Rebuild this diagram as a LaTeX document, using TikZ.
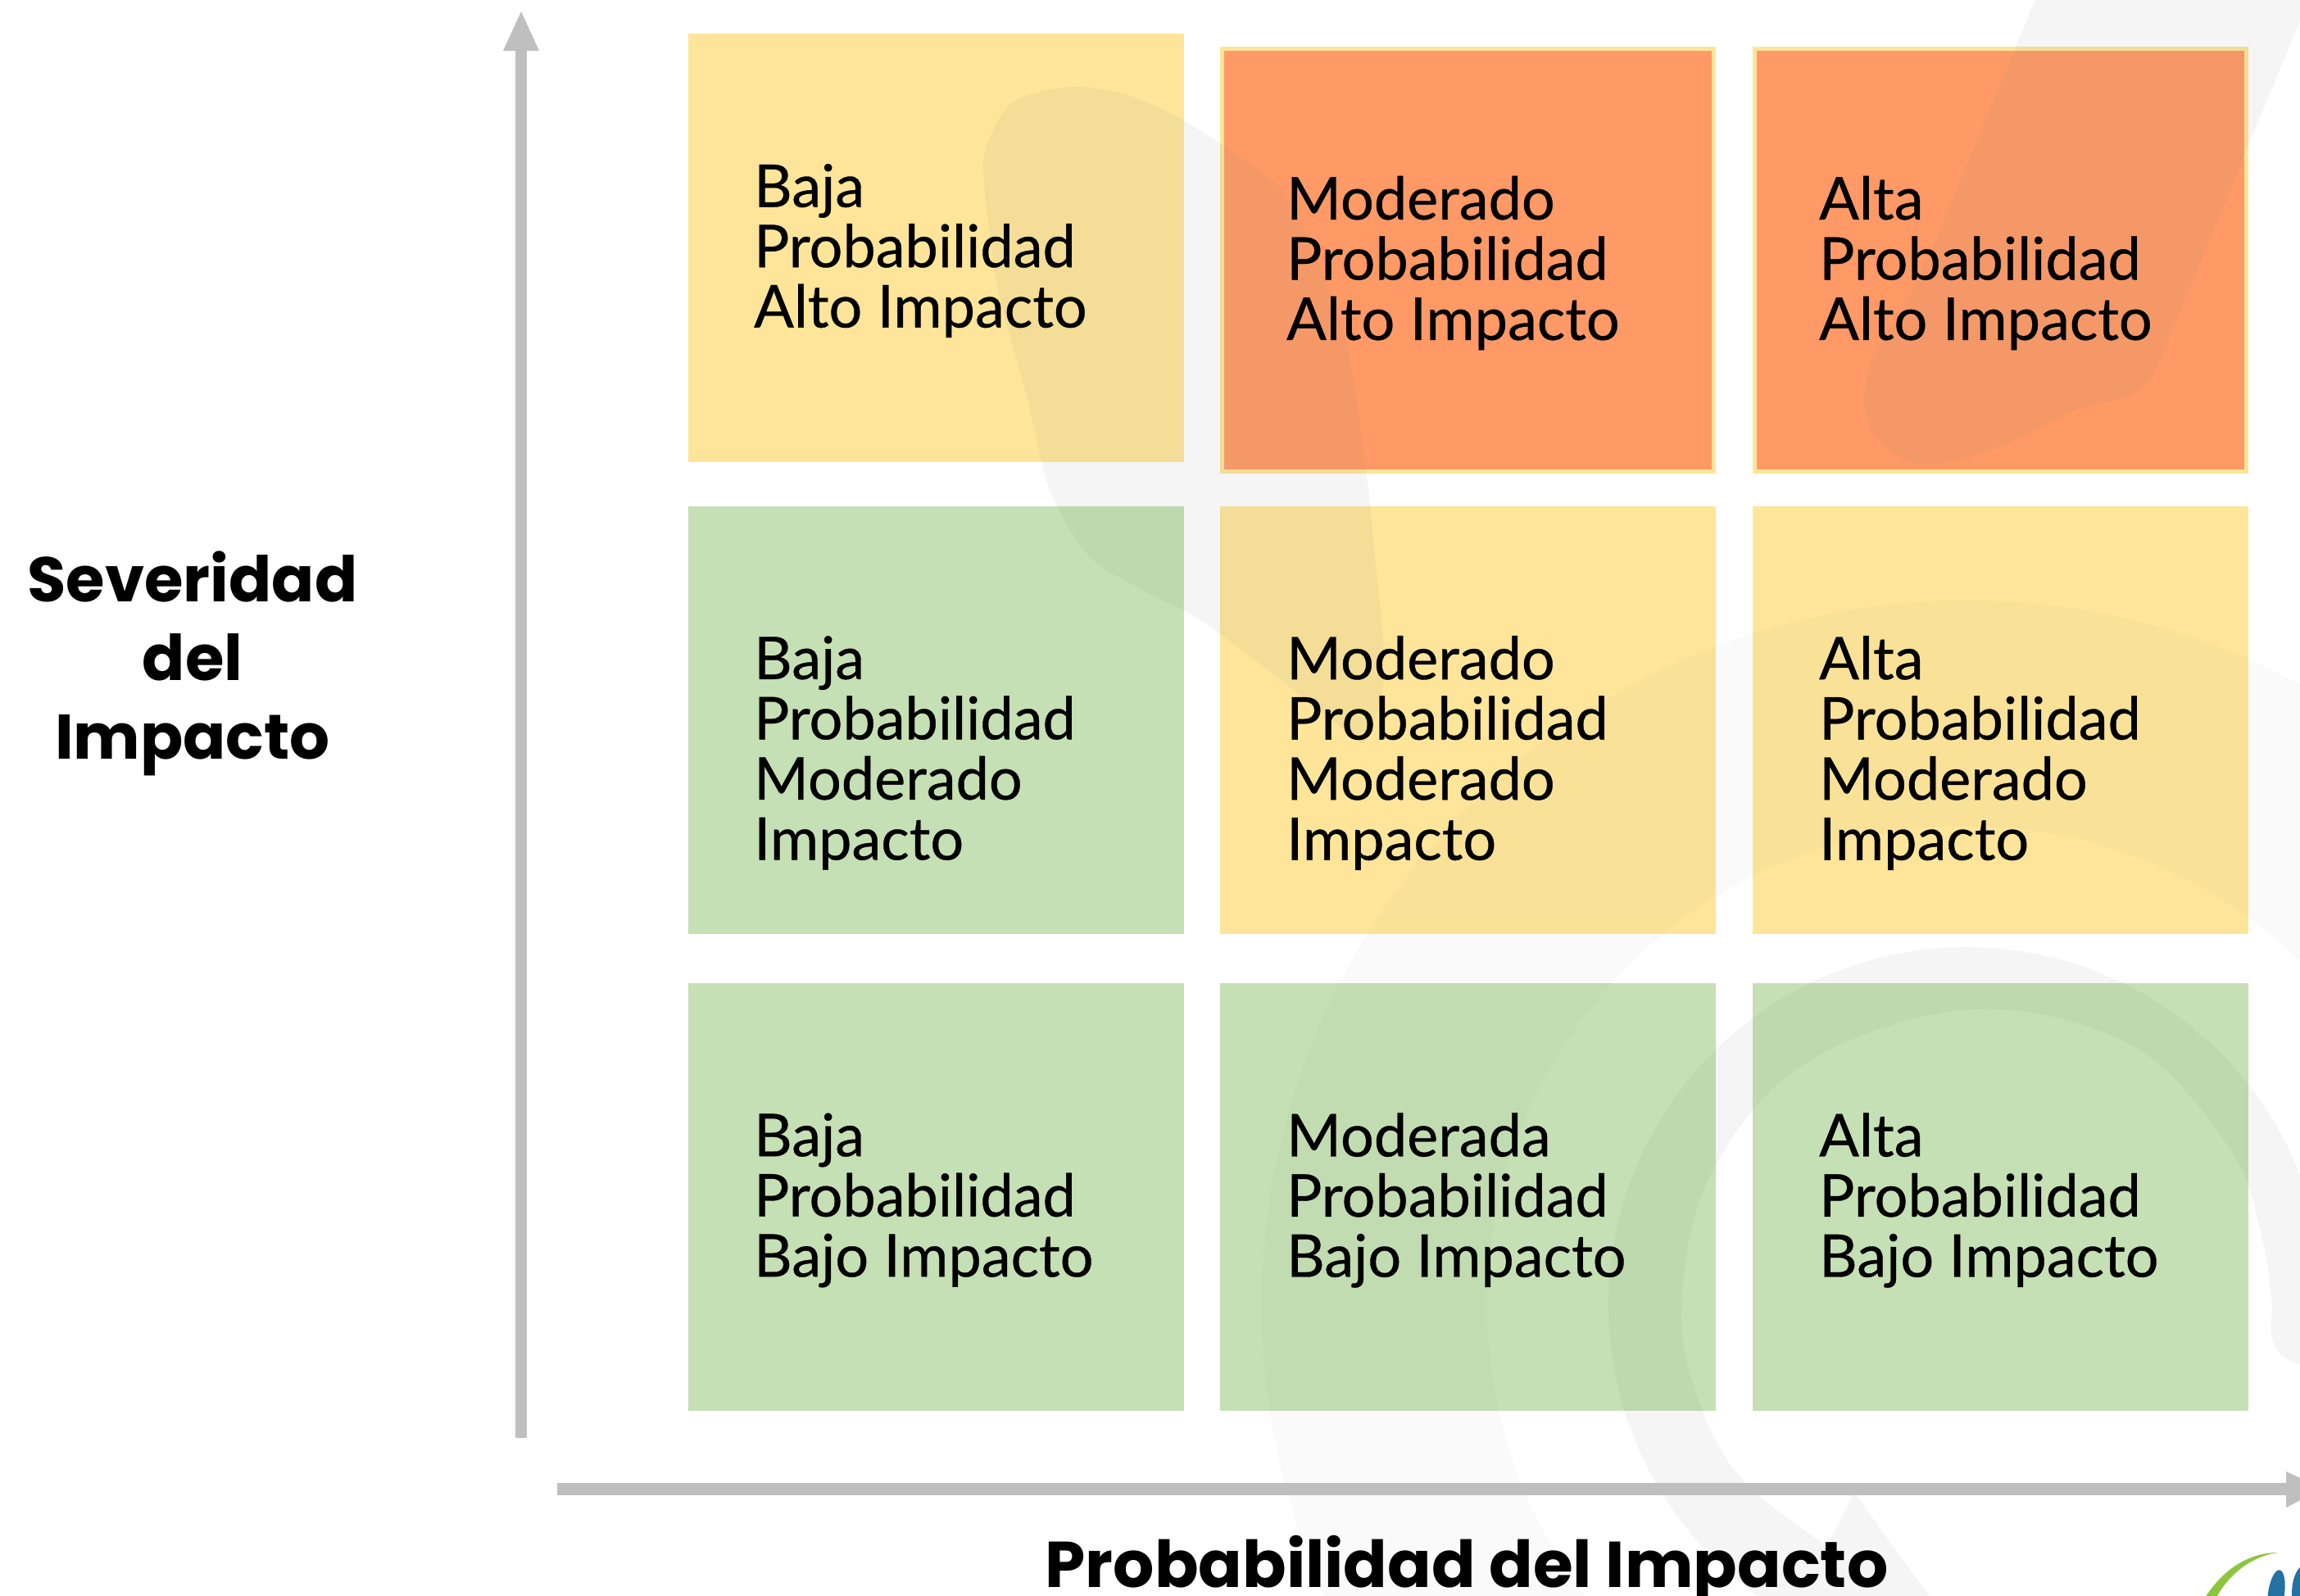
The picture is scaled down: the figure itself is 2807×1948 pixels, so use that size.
\documentclass[tikz,border=0pt]{standalone}
\usepackage{fontspec}
\usetikzlibrary{calc}
\setmainfont[FakeBold=0.5]{Lato}
\newfontfamily\axisfont{Poppins}
\definecolor{cellyellow}{HTML}{FEE599}
\definecolor{cellgreen}{HTML}{C5E0B4}
\definecolor{cellorange}{HTML}{FF9966}
\definecolor{axisgray}{HTML}{BFBFBF}
\definecolor{wmark}{HTML}{808F85}
\definecolor{logogreen}{HTML}{8CC63F}
\definecolor{logoblue}{HTML}{2471A3}
\tikzset{
  x=1pt,y=-1pt,
  cellbox/.style={draw=none,inner sep=0pt,minimum width=605pt,minimum height=522pt},
  yellowcell/.style={cellbox,fill=cellyellow},
  greencell/.style={cellbox,fill=cellgreen},
  orangecell/.style={cellbox,fill=cellorange,draw=cellyellow,line width=5pt,minimum width=600pt,minimum height=516pt},
  celltext/.style={anchor=west,align=left,inner sep=0pt,font=\fontsize{72}{73.5}\selectfont,text=black},
  axislabel/.style={align=center,inner sep=0pt,font=\axisfont\bfseries\fontsize{77}{96}\selectfont,text=black},
  xaxislabel/.style={inner sep=0pt,font=\axisfont\bfseries\fontsize{79}{96}\selectfont,text=black},
  axisline/.style={draw=axisgray,fill=axisgray,line width=15pt},
  markA/.style={fill=wmark,fill opacity=.04},
  markB/.style={fill=wmark,fill opacity=.085},
}
\newcommand{\celltxt}[4]{\node[celltext] (#1) at (#2,#3) {#4};}
\begin{document}
\begin{tikzpicture}
\useasboundingbox (0,0) rectangle (2807,1948);
\clip (0,0) rectangle (2807,1948);
\fill[white] (0,0) rectangle (2807,1948);
% cells
\node[yellowcell] (c11) at (1142.5,302.5) {};
\node[orangecell] (c12) at (1791.5,317.5) {};
\node[orangecell] (c13) at (2441.5,317.5) {};
\node[greencell] (c21) at (1142.5,879) {};
\node[yellowcell] (c22) at (1791.5,879) {};
\node[yellowcell] (c23) at (2441.5,879) {};
\node[greencell] (c31) at (1142.5,1461) {};
\node[greencell] (c32) at (1791.5,1461) {};
\node[greencell] (c33) at (2441.5,1461) {};
% watermark
\fill[markB] plot[smooth cycle,tension=.5] coordinates {(1306,106) (1376,116) (1453,152) (1560,228) (1600,300) (1642,414) (1667,573) (1675,650) (1688,783) (1687,843) (1668,902) (1653,900) (1567,833) (1488,773) (1445,745) (1400,723) (1330,680) (1281,598) (1255,491) (1217,348) (1201,223) (1204,178) (1236,125)};
\fill[markB] (2492,-20) -- (2358,305) .. controls (2320,390) and (2290,420) .. (2283,445) .. controls (2265,500) and (2280,545) .. (2333,564) .. controls (2375,575) and (2440,550) .. (2525,503) .. controls (2570,485) and (2615,495) .. (2633,446) -- (2807,25) -- (2830,-20) -- cycle;
\fill[markA,even odd rule] (2400,1593) circle (860) (2400,1593) circle (585);
\fill[markB] plot[domain=122:370,samples=90,variable=\t] ({2400+437*cos(\t)},{1593+437*sin(\t)}) -- (2850,1668) -- plot[smooth,tension=.6] coordinates {(2807,1665) (2783,1653) (2772,1627) (2772,1583) (2758,1500) (2720,1400) (2600,1275) (2405,1232) (2200,1300) (2085,1440) (2052,1600) (2077,1720) (2130,1810) (2230,1887)} -- (2263,1822) -- (2363,1960) -- cycle;
% cell texts
\celltxt{t11}{920}{306}{Baja\\Probabilidad\\Alto Impacto}
\celltxt{t12}{1570}{321}{Moderado\\Probabilidad\\Alto Impacto}
\celltxt{t13}{2220}{321}{Alta\\Probabilidad\\Alto Impacto}
\celltxt{t21}{920}{919}{Baja\\Probabilidad\\Moderado\\Impacto}
\celltxt{t22}{1570}{919}{Moderado\\Probabilidad\\Moderado\\Impacto}
\celltxt{t23}{2220}{919}{Alta\\Probabilidad\\Moderado\\Impacto}
\celltxt{t31}{920}{1465}{Baja\\Probabilidad\\Bajo Impacto}
\celltxt{t32}{1570}{1465}{Moderada\\Probabilidad\\Bajo Impacto}
\celltxt{t33}{2220}{1465}{Alta\\Probabilidad\\Bajo Impacto}
% axes
\coordinate (vstart) at (636,1755);
\coordinate (vend) at (636,62);
\coordinate (vtip) at (636,14);
\coordinate (hstart) at (680,1817);
\coordinate (hend) at (2790,1817);
\draw[axisline,line width=14pt] (vstart) -- (vend);
\fill[axisgray] (vtip) -- ($(vend)+(22,0)$) -- ($(vend)+(-22,0)$) -- cycle;
\draw[axisline] (hstart) -- (hend);
\fill[axisgray] (2790,1796) -- (2835,1817) -- (2790,1840) -- cycle;
% labels
\node[axislabel] (ylabel) at (235,810) {Severidad\\del\\Impacto};
\node[xaxislabel,anchor=base] (xlabel) at (1790,1937) {Probabilidad del Impacto};
% logo
\fill[logogreen] (2685,1960) .. controls (2710,1915) and (2745,1895) .. (2780,1895) .. controls (2745,1900) and (2715,1925) .. (2700,1960) -- cycle;
\fill[logoblue,rotate around={-8:(2778,1945)}] (2778,1945) ellipse (10 and 29);
\fill[logoblue] (2815,1945) ellipse (18 and 36);
\end{tikzpicture}
\end{document}
